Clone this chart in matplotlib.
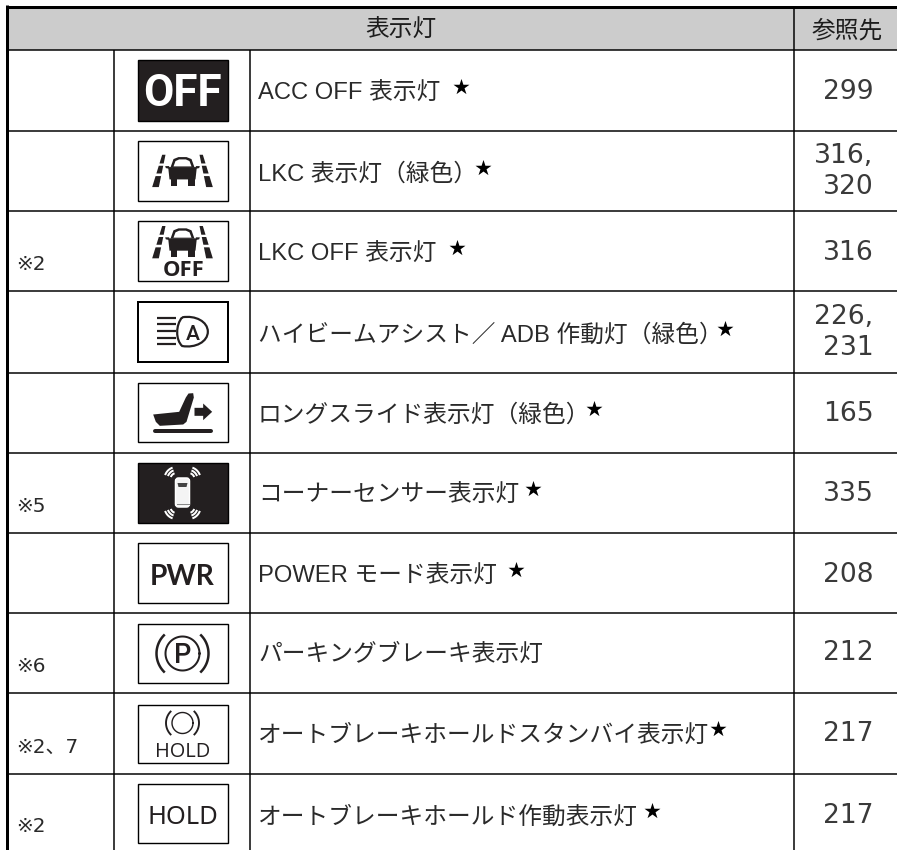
import matplotlib
matplotlib.use('Agg')
import matplotlib.pyplot as plt
import numpy as np
from matplotlib.patches import Rectangle, PathPatch, Polygon, FancyBboxPatch
from matplotlib.path import Path

# table contents
header_left = '表示灯'
header_right = '参照先'
notes = ['', '', '※2', '', '', '※5', '', '※6', '※2、7', '※2']
labels = ['ACC OFF 表示灯', 'LKC 表示灯（緑色）', 'LKC OFF 表示灯',
          'ハイビームアシスト／ ADB 作動灯（緑色）', 'ロングスライド表示灯（緑色）',
          'コーナーセンサー表示灯', 'POWER モード表示灯', 'パーキングブレーキ表示灯',
          'オートブレーキホールドスタンバイ表示灯', 'オートブレーキホールド作動表示灯']
has_star = [True, True, True, True, True, True, True, False, True, True]
refs = ['299', '316,\n320', '316', '226,\n231', '165', '335', '208', '212', '217', '217']

# layout in pixels of the picture
row_lines = [49.5, 130.5, 210.5, 290.5, 372.5, 452.5, 532.5, 612.5, 692.5, 773.5]
col_lines = [113.5, 249.5, 793.5]
box_top = [60, 141, 221, 302, 383, 463, 543, 624, 705, 784]
box_bot = [120.5, 200.5, 281, 362, 442, 523, 603, 683, 763, 843]
text_base = [99.5, 181, 261, 342, 422, 502, 583, 661, 742, 824]
star_x = [452, 474, 448, 716, 585, 524, 507, 0, 709, 643]
note_base = [0, 0, 270, 0, 0, 511.5, 0, 672, 753, 832.5]
box_l, box_r = 137.5, 227.5
cx = 182.5

DARK = '#231f20'
TXT = '#2a2a2a'
CJK = ['Liberation Sans', 'Noto Sans CJK JP']
NUM = ['DejaVu Sans', 'Noto Sans CJK JP']

fig = plt.figure(figsize=(8.97, 8.5), dpi=100)
ax = fig.add_axes([0, 0, 1, 1])
ax.set_xlim(0, 897)
ax.set_ylim(850, 0)
ax.axis('off')


def px(v):
    return v * 0.72


def arc(x0, y0, r, a1, a2, lw, color=DARK):
    t = np.radians(np.linspace(a1, a2, 30))
    ax.plot(x0 + r * np.cos(t), y0 - r * np.sin(t), color=color, lw=px(lw),
            solid_capstyle='butt', zorder=4)


def poly(pts, x0, y0, color=DARK, s=1 / 3, z=4):
    pts = np.array(pts, dtype=float) * s + [x0, y0]
    ax.add_patch(Polygon(pts, closed=True, fc=color, ec='none', zorder=z))


def lane_car(x0, y0):
    # dashed lane edges, both sides
    for side in (-1, 1):
        for t0, t1 in [(0, 0.27), (0.34, 0.58), (0.66, 1.0)]:
            a = lambda t, e1, e2: e1 + (e2 - e1) * t
            pts = [(side * a(t0, 51, 71), a(t0, -48, 49)),
                   (side * a(t0, 61, 91), a(t0, -48, 49)),
                   (side * a(t1, 61, 91), a(t1, -48, 49)),
                   (side * a(t1, 51, 71), a(t1, -48, 49))]
            poly(pts, x0, y0)
    # car
    poly([(-36, -10), (-27, -35), (-12, -41), (12, -41), (27, -35), (36, -10)], x0, y0)
    poly([(-27, -13), (-21, -29), (-10, -34), (10, -34), (21, -29), (27, -13)], x0, y0, color='white', z=5)
    poly([(-43, -11), (43, -11), (39, 26), (-39, 26)], x0, y0, z=6)
    poly([(-52, -14), (-40, -14), (-40, -6), (-50, -8)], x0, y0)
    poly([(52, -14), (40, -14), (40, -6), (50, -8)], x0, y0)
    poly([(-36, 24), (-17, 24), (-17, 45), (-36, 45)], x0, y0)
    poly([(36, 24), (17, 24), (17, 45), (36, 45)], x0, y0)


def high_beam(x0, y0):
    for dy in (-43, -23, -3, 17, 37):
        ax.plot([x0 - 26, x0 - 7], [y0 + dy / 3, y0 + dy / 3], color=DARK, lw=px(2.2), solid_capstyle='butt', zorder=4)
    verts = [(155, 67), (195, 60), (232, 80), (232, 110), (232, 140), (195, 160), (155, 153), (135, 135), (135, 90), (155, 67)]
    verts = [(x0 + (a - 156) / 3, y0 + (b - 111) / 3) for a, b in verts]
    codes = [Path.MOVETO] + [Path.CURVE4] * 9
    ax.add_patch(PathPatch(Path(verts, codes), fc='none', ec=DARK, lw=px(2.2), zorder=4))
    ax.text(x0 + 10, y0 + 7.5, 'A', family='Roboto', weight='medium', fontsize=px(21), color=DARK, ha='center', va='baseline', zorder=5)


def seat(x0, y0):
    # zoom units around the box centre
    poly([(-88, 6), (-10, -2), (10, -45), (18, -57), (32, -58), (34, -45), (12, 28), (2, 36), (-68, 40), (-80, 28)], x0, y0)
    ax.plot([x0 - 28, x0 + 28], [y0 + 18.5, y0 + 18.5], color=DARK, lw=px(4), solid_capstyle='round', zorder=4)
    poly([(36, -14), (62, -14), (62, -27), (89, -2), (62, 23), (62, 10), (36, 10)], x0, y0)


def corner_sensor(x0, y0):
    ax.add_patch(FancyBboxPatch((x0 - 7, y0 - 15), 14, 29, boxstyle='round,pad=0,rounding_size=3',
                                fc='#f4f4f4', ec='white', lw=px(1.5), zorder=4))
    poly([(-15, -30), (15, -30), (12, -18), (-12, -18)], x0, y0, color='#444444', z=5)
    ax.plot([x0 - 6, x0 + 6], [y0 + 11, y0 + 11], color='#888888', lw=px(1), zorder=5)
    for dx, dy, ang in [(-6, -14, 135), (6, -14, 45), (-6, 14, 225), (6, 14, 315)]:
        for r in (6, 9, 12):
            arc(x0 + dx, y0 + dy, r, ang - 26, ang + 26, 2.0, color='white')


def parking(x0, y0, r, rout, lw, letter):
    t = np.radians(np.linspace(0, 360, 80))
    ax.plot(x0 + r * np.cos(t), y0 + r * np.sin(t), color=DARK, lw=px(lw), zorder=4)
    arc(x0, y0, rout, 133, 227, lw + 0.5)
    arc(x0, y0, rout, -47, 47, lw + 0.5)
    if letter:
        ax.text(x0, y0 + 9.5, letter, family='Roboto', weight='medium', fontsize=px(27), color=DARK,
                ha='center', va='baseline', zorder=5)


# header
ax.add_patch(Rectangle((7, 7), 890, 42.5, fc='#cccccc', ec='none', zorder=1))
ax.text(400.5, 37, header_left, family=CJK, fontsize=px(23.7), color='#1c1c1c', ha='center', va='baseline', zorder=6)
ax.text(847, 37, header_right, family=CJK, fontsize=px(23.7), color='#1c1c1c', ha='center', va='baseline', zorder=6)

# grid
for y in row_lines:
    ax.plot([7, 897], [y, y], color='black', lw=px(1.5), solid_capstyle='butt', zorder=2)
for i, x in enumerate(col_lines):
    y0 = 7 if i == 2 else row_lines[0]
    ax.plot([x, x], [y0, 850], color='black', lw=px(1.5), solid_capstyle='butt', zorder=2)
ax.plot([7, 7], [5, 850], color='black', lw=px(3), solid_capstyle='butt', zorder=3)
ax.plot([5.5, 897], [6.5, 6.5], color='black', lw=px(3), solid_capstyle='butt', zorder=3)

# rows
for i in range(len(labels)):
    ax.text(258, text_base[i], labels[i], family=CJK, fontsize=px(23.7), color=TXT, ha='left', va='baseline', zorder=6)
    if has_star[i]:
        ax.text(star_x[i], text_base[i] - 6, '★', family='Noto Sans CJK JP', fontsize=px(17), color='black',
                ha='left', va='baseline', zorder=6)
    if notes[i]:
        ax.text(16, note_base[i], notes[i], family=NUM, fontsize=px(20), color=TXT, ha='left', va='baseline', zorder=6)
    parts = refs[i].split('\n')
    if len(parts) == 1:
        ax.text(873.5, text_base[i] - 1, parts[0], family='DejaVu Sans', fontsize=px(26.5), color='#3a3a3a',
                ha='right', va='baseline', zorder=6)
    else:
        ax.text(873.5, text_base[i] - 18, parts[0], family='DejaVu Sans', fontsize=px(26.5), color='#3a3a3a',
                ha='right', va='baseline', zorder=6)
        ax.text(873.5, text_base[i] + 13, parts[1], family='DejaVu Sans', fontsize=px(26.5), color='#3a3a3a',
                ha='right', va='baseline', zorder=6)
    # icon box
    filled = i in (0, 5)
    lw = 2.0 if i == 3 else 1.4
    ax.add_patch(Rectangle((box_l, box_top[i]), box_r - box_l, box_bot[i] - box_top[i],
                           fc=DARK if filled else 'white', ec='black', lw=px(lw), zorder=3))

ymid = [(a + b) / 2 for a, b in zip(box_top, box_bot)]
ax.text(cx, ymid[0] + 15.5, 'OFF', family='Roboto', weight='bold', fontsize=px(44), color='white',
        ha='center', va='baseline', zorder=5)
lane_car(cx, ymid[1])
lane_car(cx, ymid[2] - 9)
ax.text(cx + 1, ymid[2] + 25, 'OFF', family='Open Sans', weight='bold', fontsize=px(22), color=DARK,
        ha='center', va='baseline', zorder=5)
high_beam(cx, ymid[3])
seat(cx, ymid[4])
corner_sensor(cx, ymid[5])
ax.text(cx, 585, 'PWR', family='Lato', weight='bold', fontsize=px(28), color=DARK,
        ha='center', va='baseline', zorder=5)
parking(cx, ymid[7], 17, 26, 2.0, 'P')
parking(cx, ymid[8] - 11, 10.5, 16.5, 1.4, '')
ax.text(cx, 757, 'HOLD', family='Open Sans', fontsize=px(20), color=DARK, ha='center', va='baseline', zorder=5)
ax.text(cx, 823.5, 'HOLD', family='Noto Sans', weight='medium', fontsize=px(25.5), color=DARK, ha='center', va='baseline', zorder=5)

plt.savefig('out.png', dpi=100)
